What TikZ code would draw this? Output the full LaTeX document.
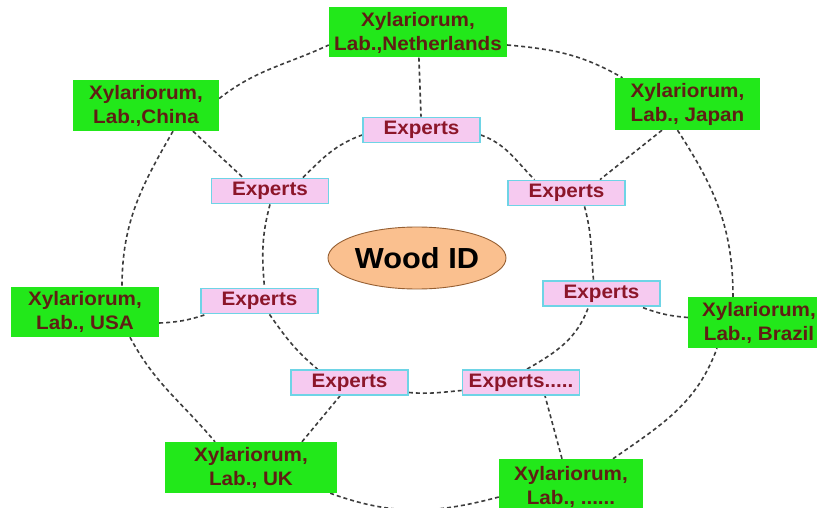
\documentclass[tikz,border=0pt]{standalone}
\usepackage{fontspec}
\setmainfont{Liberation Sans}[FakeStretch=1.06]
\usetikzlibrary{shapes.geometric,backgrounds}
\definecolor{labgreen}{RGB}{34,232,26}
\definecolor{labtext}{RGB}{95,30,20}
\definecolor{expfill}{RGB}{246,202,240}
\definecolor{expdraw}{RGB}{110,212,230}
\definecolor{exptext}{RGB}{140,22,42}
\definecolor{woodfill}{RGB}{250,192,143}
\definecolor{wooddraw}{RGB}{150,95,50}
\definecolor{dashcol}{RGB}{60,60,60}
\begin{document}
\begin{tikzpicture}[x=1pt,y=1pt,
  lab/.style={fill=labgreen, text=labtext, font=\fontsize{19.5}{24}\selectfont\bfseries, align=center, inner sep=0pt, minimum height=50pt},
  expbox/.style={fill=expfill, draw=expdraw, line width=1.8pt, text=exptext, font=\fontsize{19.5}{22}\selectfont\bfseries, inner sep=0pt, minimum width=117pt, minimum height=25pt},
  wood/.style={ellipse, fill=woodfill, draw=wooddraw, line width=0.9pt, minimum width=178pt, minimum height=62pt, inner sep=0pt, font=\fontsize{29}{32}\selectfont\bfseries},
  link/.style={draw=dashcol, dash pattern=on 4pt off 3pt, line width=1.6pt}]
\useasboundingbox (0,0) rectangle (817,-508);
% labs
\node[lab, minimum width=178pt] (nl) at (418,-32.5) {Xylariorum,\\Lab.,Netherlands};
\node[lab, minimum width=146pt, minimum height=51pt] (cn) at (146,-105.5) {Xylariorum,\\Lab.,China};
\node[lab, minimum width=145pt, minimum height=52pt] (jp) at (687.5,-104) {Xylariorum,\\Lab., Japan};
\node[lab, minimum width=148pt] (us) at (85,-312) {Xylariorum,\\Lab., USA};
\node[lab, minimum width=142pt, minimum height=51pt] (br) at (759,-322.5) {Xylariorum,\\Lab., Brazil};
\node[lab, minimum width=172pt, minimum height=51pt] (uk) at (251,-467.5) {Xylariorum,\\Lab., UK};
\node[lab, minimum width=144pt, minimum height=56pt] (etc) at (571,-487) {Xylariorum,\\Lab., ......};
% experts
\node[expbox] (e1) at (421.5,-130) {Experts};
\node[expbox] (e2) at (270,-191) {Experts};
\node[expbox] (e3) at (566.5,-193) {Experts};
\node[expbox] (e4) at (259.5,-301) {Experts};
\node[expbox] (e5) at (601.5,-293.5) {Experts};
\node[expbox] (e6) at (349.5,-382.5) {Experts};
\node[expbox] (e7) at (521,-382.5) {Experts.....};
\node[wood] (w) at (417,-258) {Wood ID};
\begin{scope}[on background layer]
\fill[white] (0,0) rectangle (817,-508);
% outer ring
\draw[link] ([yshift=7pt]cn.east) to[out=38,in=205] ([yshift=-12.5pt]nl.west);
\draw[link] ([yshift=-12.5pt]nl.east) to[out=-5,in=150] ([xshift=-65pt]jp.north);
\draw[link] ([xshift=27pt]cn.south) to[out=240,in=90] ([xshift=37pt]us.north);
\draw[link] ([xshift=45pt]us.south) to[out=-62,in=130] ([xshift=-36pt]uk.north);
\draw[link] ([xshift=-7pt]uk.south east) to[out=-20,in=195] ([yshift=-10pt]etc.west);
\draw[link] ([xshift=42pt]etc.north) to[out=35,in=250] ([xshift=-42pt]br.south);
\draw[link] ([xshift=-10pt]jp.south) to[out=-57,in=90] ([xshift=-26pt]br.north);
% inner ring
\draw[link] ([xshift=33pt]e2.north) to[out=45,in=200] ([yshift=-5pt]e1.west);
\draw[link] ([yshift=-5pt]e1.east) to[out=-20,in=135] ([xshift=-32pt]e3.north);
\draw[link] (e2.south) to[out=-105,in=95] ([xshift=5pt]e4.north);
\draw[link] ([xshift=18pt]e3.south) to[out=-75,in=95] ([xshift=-8pt]e5.north);
\draw[link] ([xshift=10pt]e4.south) to[out=-55,in=140] ([xshift=-32pt]e6.north);
\draw[link] ([yshift=-10pt]e6.east) to[out=-5,in=185] ([yshift=-8pt]e7.west);
\draw[link] ([xshift=6pt]e7.north) to[out=30,in=-110] ([xshift=-13pt]e5.south);
% spokes
\draw[link] (nl) -- (e1);
\draw[link] ([xshift=47pt]cn.south) -- ([xshift=-27pt]e2.north);
\draw[link] ([xshift=-25.5pt]jp.south) -- ([xshift=33.5pt]e3.north);
\draw[link] ([yshift=-11pt]us.east) to[bend right=8] ([xshift=6pt]e4.south west);
\draw[link] ([yshift=5pt]br.west) to[bend left=8] ([xshift=-20pt]e5.south east);
\draw[link] ([xshift=51pt]uk.north) -- ([xshift=-9.5pt]e6.south);
\draw[link] ([xshift=-9pt]etc.north) -- ([xshift=24pt]e7.south);
\end{scope}
\end{tikzpicture}
\end{document}
